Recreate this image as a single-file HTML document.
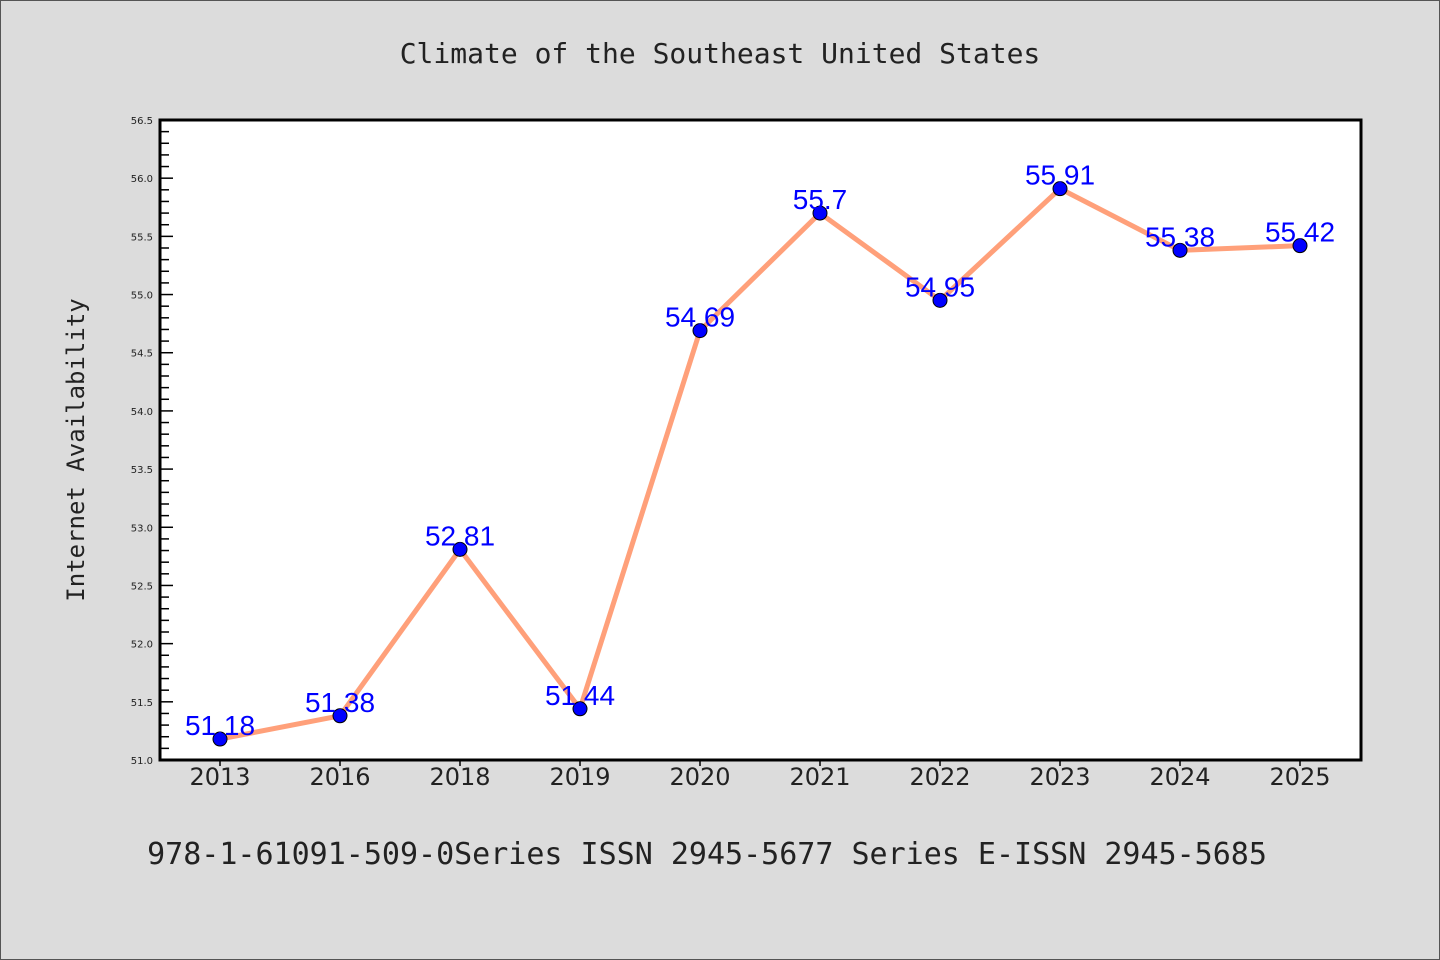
<!DOCTYPE html>
<html><head><meta charset="utf-8"><style>
html,body{margin:0;padding:0;}
body{width:1440px;height:960px;background:#dcdcdc;overflow:hidden;}
svg{display:block;}
</style></head><body>
<svg id="chart" width="1440" height="960" xmlns="http://www.w3.org/2000/svg">
<rect x="0.5" y="0.5" width="1439" height="959" fill="#dcdcdc" stroke="#555" stroke-width="1"/>
<text x="720" y="63" text-anchor="middle" font-family="'DejaVu Sans Mono','Liberation Mono',monospace" font-size="28" fill="#222">Climate of the Southeast United States</text>
<rect x="160" y="120" width="1201" height="640" fill="#fff" stroke="#000" stroke-width="3"/>
<text transform="translate(84,450) rotate(-90)" text-anchor="middle" font-family="'DejaVu Sans Mono','Liberation Mono',monospace" font-size="24" fill="#222">Internet Availability</text>
<text x="707" y="864" text-anchor="middle" font-family="'DejaVu Sans Mono','Liberation Mono',monospace" font-size="30" fill="#222">978-1-61091-509-0Series ISSN 2945-5677 Series E-ISSN 2945-5685</text>
<g id="axes"></g><g id="series"></g>
</svg>
<script>
const categories=["2013","2016","2018","2019","2020","2021","2022","2023","2024","2025"];
const values=[51.18,51.38,52.81,51.44,54.69,55.7,54.95,55.91,55.38,55.42];
const valueLabels=["51.18","51.38","52.81","51.44","54.69","55.7","54.95","55.91","55.38","55.42"];
const yTicks=["51.0","51.5","52.0","52.5","53.0","53.5","54.0","54.5","55.0","55.5","56.0","56.5"];
const NS="http://www.w3.org/2000/svg";
const L=160,R=1361,T=120,B=760,yMin=51,yMax=56.5;
function y(v){return B-(v-yMin)/(yMax-yMin)*(B-T);}
function x(i){return 220+i*(1300-220)/(categories.length-1);}
function mk(t,a,p){const e=document.createElementNS(NS,t);for(const k in a)e.setAttribute(k,a[k]);p.appendChild(e);return e;}
const ax=document.getElementById('axes'),sr=document.getElementById('series');
for(let k=0;k<=55;k++){const v=yMin+k*0.1;const major=k%5===0;
 const t=mk('line',{x1:L,x2:L+(major?13:9),y1:y(v),y2:y(v),stroke:'#000','stroke-width':1.5},ax);
 
 }
yTicks.forEach(s=>{const e=mk('text',{x:L-7,y:y(+s)+4,'text-anchor':'end','font-family':"'DejaVu Sans','Liberation Sans',sans-serif",'font-size':10,fill:'#222'},ax);e.textContent=s;
 
 });
categories.forEach((c,i)=>{const t=mk('line',{x1:x(i),x2:x(i),y1:B,y2:B+6,stroke:'#000','stroke-width':1.5},ax);
 
 
 const e=mk('text',{x:x(i),y:785,'text-anchor':'middle','font-family':"'DejaVu Sans','Liberation Sans',sans-serif",'font-size':24,fill:'#222'},ax);e.textContent=c;
 
 });
const line=mk('polyline',{points:values.map((v,i)=>x(i)+','+y(v)).join(' '),fill:'none',stroke:'#ffa07a','stroke-width':5,'stroke-linejoin':'round'},sr);


values.forEach((v,i)=>{const c=mk('circle',{cx:x(i),cy:y(v),r:7,fill:'#0000ff',stroke:'#000','stroke-width':1},sr);
 
 });
values.forEach((v,i)=>{const e=mk('text',{x:x(i),y:y(v)-4,'text-anchor':'middle','font-family':"'Liberation Sans',sans-serif",'font-size':28,fill:'#0000ff'},sr);e.textContent=valueLabels[i];
 
 });
</script>
</body></html>
